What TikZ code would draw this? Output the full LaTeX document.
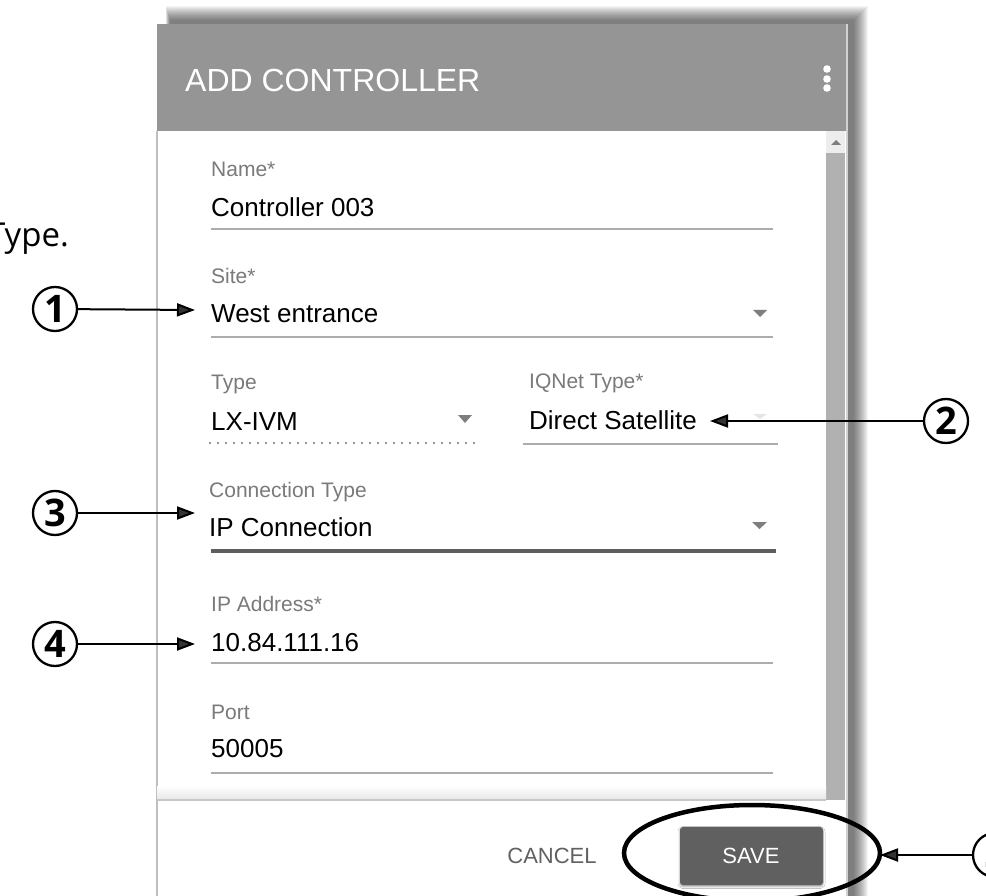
\documentclass[tikz,border=0pt]{standalone}
\usepackage{fontspec}
\setmainfont{Liberation Sans}
\newfontfamily\numfont{Open Sans}
\usetikzlibrary{arrows.meta,shapes.geometric,shadows.blur}
\definecolor{headergray}{HTML}{959595}
\definecolor{labelgray}{HTML}{7A7A7A}
\definecolor{linegray}{HTML}{ADADAD}
\definecolor{arrowgray}{HTML}{7E7E7E}
\definecolor{scrollgray}{HTML}{B1B1B1}
\definecolor{btngray}{HTML}{606060}
\tikzset{
  lbl/.style={anchor=base west, inner sep=0pt, text=labelgray, font=\fontsize{21}{25}\selectfont},
  val/.style={anchor=base west, inner sep=0pt, text=black, font=\fontsize{26}{30}\selectfont},
  uline/.style={draw=linegray, line width=2pt},
  ddarrow/.style={fill=arrowgray, draw=none},
  num/.style={circle, draw, line width=2.3pt, minimum size=44pt, inner sep=0pt, font=\numfont\bfseries\fontsize{38}{40}\selectfont},
  callout/.style={line width=2pt, -{Triangle[length=18pt,width=13pt]}},
  shadowlayer/.style={fill=black, fill opacity=0.045, draw=none},
}
\begin{document}
\begin{tikzpicture}[x=1pt,y=-1pt]
\useasboundingbox (0,0) rectangle (986,896);
\fill[white] (0,0) rectangle (986,896);
% soft shadow of the dialog (top and right only)
\foreach \i in {0,...,14} {
  \fill[shadowlayer] (170-0.3*\i,20-\i) rectangle (854+\i,940);
}
% dialog
\fill[white] (157,24) rectangle (848,940);
\fill[headergray] (157,24) rectangle (848,131);
\node[anchor=base west, inner sep=0pt, text=white, font=\fontsize{32}{36}\selectfont] (title) at (185,92) {ADD CONTROLLER};
\fill[white] (827,69) circle (3.8pt) (827,79) circle (3.8pt) (827,88) circle (3.8pt);
% borders
\draw[draw=black!25, line width=1.5pt] (157,131) -- (157,896);
\draw[draw=black!18, line width=1.5pt] (847,24) -- (847,896);
% scrollbar
\fill[black!7] (826,131) rectangle (845,153);
\fill[arrowgray] (831,145) -- (841,145) -- (836,140) -- cycle;
\fill[scrollgray] (826,153) rectangle (845,800);
% footer separator
\shade[top color=white, bottom color=black!9] (157,786) rectangle (826,799);
\draw[draw=black!22, line width=2pt] (157,800) -- (826,800);
% fields
\node[lbl] (namel) at (211,177) {Name*};
\node[val] (namev) at (211,217) {Controller 003};
\draw[uline] (211,229) -- (773,229);
\node[lbl] (sitel) at (211,284) {Site*};
\node[val] (sitev) at (211,323) {West entrance};
\draw[uline] (211,337) -- (773,337);
\fill[ddarrow] (753,310) -- (767,310) -- (760,317) -- cycle;
\node[lbl] (typel) at (211,389) {Type};
\node[val] (typev) at (211,430) {LX-IVM};
\draw[draw=black!40, line width=1.5pt, dash pattern=on 1.5pt off 6.5pt] (209,443) -- (480,443);
\fill[ddarrow] (458,415) -- (472,415) -- (465,423) -- cycle;
\node[lbl] (iql) at (529,388) {IQNet Type*};
\node[val] (iqv) at (529,429) {Direct Satellite};
\draw[uline] (523,444) -- (778,444);
\fill[black!10] (753,414) -- (767,414) -- (760,419) -- cycle;
\node[lbl] (connl) at (209,497) {Connection Type};
\node[val] (connv) at (209,536) {IP Connection};
\draw[draw=black!63, line width=3.5pt] (211,551) -- (776,551);
\fill[ddarrow] (752,522) -- (767,522) -- (759.5,529) -- cycle;
\node[lbl] (ipl) at (211,611) {IP Address*};
\node[val] (ipv) at (211,651) {10.84.111.16};
\draw[uline] (211,663) -- (773,663);
\node[lbl] (portl) at (211,719) {Port};
\node[val] (portv) at (211,757) {50005};
\draw[uline] (211,773) -- (773,773);
% footer buttons
\node[anchor=base, inner sep=0pt, text=black!62, font=\fontsize{22}{26}\selectfont] (cancel) at (552,863) {CANCEL};
\fill[btngray, rounded corners=3pt, blur shadow={shadow xshift=0pt, shadow yshift=-1.5pt, shadow blur radius=2pt, shadow opacity=40}] (680,827) rectangle (823,885);
\node[anchor=base, inner sep=0pt, text=white, font=\fontsize{22}{26}\selectfont] (save) at (751,863) {SAVE};
\node[draw, ellipse, line width=4.5pt, minimum width=256pt, minimum height=96pt, outer sep=0pt] (ring) at (752,853) {};
% left text (cut at the left edge as in the reference)
\node[anchor=base east, inner sep=0pt, font=\numfont\fontsize{33}{36}\selectfont] (typetxt) at (69,247) {Type.};
% callouts
\node[num] (c1) at (55,309) {1};
\node[num] (c2) at (946,421) {2};
\node[num] (c3) at (55,513) {3};
\node[num] (c4) at (55,644) {4};
\node[num] (c5) at (995,855) {5};
\coordinate (t1) at (195,310);
\coordinate (t2) at (710,421);
\coordinate (t3) at (195,513);
\coordinate (t4) at (195,644);
\draw[callout] (c1) -- (t1);
\draw[callout] (c2) -- (t2);
\draw[callout] (c3) -- (t3);
\draw[callout] (c4) -- (t4);
\draw[callout] (c5) -- (c5 -| ring.east);
\end{tikzpicture}
\end{document}
